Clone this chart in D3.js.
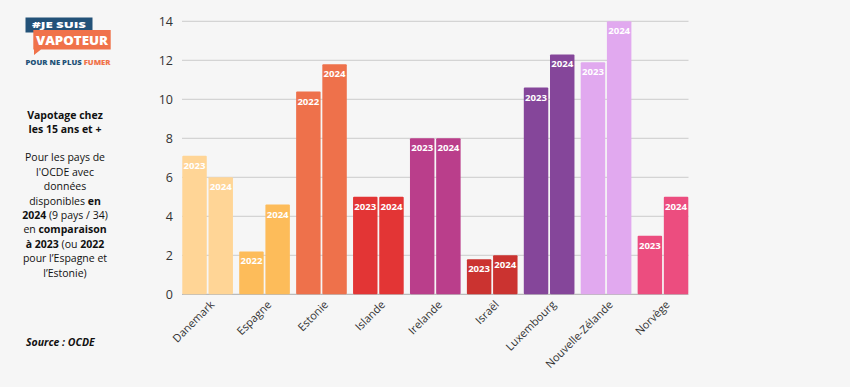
<!DOCTYPE html>
<html><head><meta charset="utf-8">
<script src="https://cdn.jsdelivr.net/npm/d3@7"></script>
<style>
html,body{margin:0;padding:0;background:#F6F6F6;}
svg{display:block;font-family:"Open Sans",sans-serif;}
</style></head>
<body><svg id="c" width="850" height="387"></svg>
<script>
const countries = ["Danemark","Espagne","Estonie","Islande","Irelande","Israël","Luxembourg","Nouvelle-Zélande","Norvège"];
const yearsA = ["2023","2022","2022","2023","2023","2023","2023","2023","2023"];
const valuesA = [7.1,2.2,10.4,5.0,8.0,1.8,10.6,11.9,3.0];
const yearsB = ["2024","2024","2024","2024","2024","2024","2024","2024","2024"];
const valuesB = [6.0,4.6,11.8,5.0,8.0,2.0,12.3,14.0,5.0];
const colors = ["#FFD596","#FDBC5A","#EE714B","#E33535","#BA3E8B","#CB3330","#85469A","#E1A9EF","#EC4D7F"];
const yTicks = [0,2,4,6,8,10,12,14];

const svg = d3.select("#c");
svg.append("rect").attr("width",850).attr("height",387).attr("fill","#F6F6F6");

const y = d3.scaleLinear().domain([0,14]).range([294.3,21.3]);
const x0 = d3.scaleBand().domain(countries).range([182.3,688.3]).paddingInner(0.11).paddingOuter(0);
const x1 = d3.scaleBand().domain([0,1]).range([0,x0.bandwidth()]).paddingInner(0.066);

// grid
const g = svg.append("g");
g.selectAll("line.grid").data(yTicks.filter(d=>d>0)).join("line")
  .attr("x1",182).attr("x2",688.5).attr("y1",d=>y(d)).attr("y2",d=>y(d))
  .attr("stroke","#CCCCCC").attr("stroke-width",1);
g.append("line").attr("x1",182).attr("x2",688.5).attr("y1",y(0)).attr("y2",y(0))
  .attr("stroke","#BBBBBB").attr("stroke-width",1.2);

// y axis labels
const yAxis = d3.axisLeft(y).tickValues(yTicks).tickSize(0).tickPadding(9);
const ya = svg.append("g").attr("transform","translate(182,0)").call(yAxis);
ya.select(".domain").remove();
ya.selectAll("text").attr("font-size",12.5).attr("fill","#333").attr("font-family","Open Sans");

// bars
const rows = countries.map((c,i)=>({c,i,vals:[{v:valuesA[i],yr:yearsA[i],k:0},{v:valuesB[i],yr:yearsB[i],k:1}]}));
const grp = svg.selectAll("g.grp").data(rows).join("g").attr("class","grp")
  .attr("transform",d=>`translate(${x0(d.c)},0)`);
grp.selectAll("rect").data(d=>d.vals.map(v=>({...v,col:colors[d.i]}))).join("rect")
  .attr("x",d=>x1(d.k)).attr("width",x1.bandwidth())
  .attr("y",d=>y(d.v)).attr("height",d=>y(0)-y(d.v))
  .attr("fill",d=>d.col).attr("rx",1);
grp.selectAll("text").data(d=>d.vals).join("text")
  .attr("x",d=>x1(d.k)+x1.bandwidth()/2).attr("y",d=>y(d.v)+13)
  .attr("text-anchor","middle").attr("font-size",9.6).attr("font-weight",700)
  .attr("fill","#fff").text(d=>d.yr);

// x axis labels
const xAxis = d3.axisBottom(x0).tickSize(0).tickPadding(0);
const xa = svg.append("g").attr("transform",`translate(0,${y(0)})`).call(xAxis);
xa.select(".domain").remove();
xa.selectAll("text").attr("font-size",11).attr("fill","#333").attr("font-family","Open Sans")
  .attr("text-anchor","end").attr("dy",0).attr("y",0)
  .attr("transform","translate(7.5,11) rotate(-45)");

// left panel text
const lt = svg.append("g").attr("font-size",10.5).attr("fill","#111").attr("text-anchor","middle");
const lines = [
  [[ "Vapotage chez",1]],
  [[ "les 15 ans et +",1]],
  null,
  [[ "Pour les pays de",0]],
  [[ "l'OCDE avec",0]],
  [[ "données",0]],
  [[ "disponibles ",0],["en",1]],
  [[ "2024",1],[" (9 pays / 34)",0]],
  [[ "en ",0],["comparaison",1]],
  [[ "à 2023",1],[" (ou ",0],["2022",1]],
  [[ "pour l’Espagne et",0]],
  [[ "l’Estonie)",0]]
];
const base = [119,133.4,null,161.3,175.7,190.1,204.5,218.9,233.3,247.7,262.1,276.5];
lines.forEach((ln,i)=>{
  if(!ln) return;
  const t = lt.append("text").attr("x",65).attr("y",base[i]);
  ln.forEach(([s,b])=>t.append("tspan").attr("font-weight",b?700:400).text(s));
});
svg.append("text").attr("x",26).attr("y",346).attr("font-size",10.5).attr("font-weight",700)
  .attr("font-style","italic").attr("fill","#111").text("Source : OCDE");

// logo
const lg = svg.append("g");
lg.append("rect").attr("x",25.5).attr("y",17.5).attr("width",67).attr("height",15).attr("fill","#235278");
lg.append("path").attr("d","M33.3,30 H110.7 V49.5 H41 L34,55 L34,49.5 H33.3 Z").attr("fill","#F0724A");
lg.append("text").attr("x",59).attr("y",28.4).attr("text-anchor","middle").attr("font-size",9.5).attr("font-weight",800)
  .attr("fill","#fff").attr("font-family","Open Sans").attr("textLength",54).attr("lengthAdjust","spacingAndGlyphs").text("#JE SUIS");
lg.append("text").attr("x",72).attr("y",45.4).attr("text-anchor","middle").attr("font-size",13).attr("font-weight",800)
  .attr("fill","#fff").attr("font-family","Open Sans").attr("textLength",72).attr("lengthAdjust","spacingAndGlyphs").text("VAPOTEUR");
const lt2 = lg.append("text").attr("x",25.5).attr("y",65).attr("font-size",7.6).attr("font-weight",800)
  .attr("textLength",85).attr("lengthAdjust","spacingAndGlyphs");
lt2.append("tspan").attr("fill","#235278").text("POUR NE PLUS ");
lt2.append("tspan").attr("fill","#F0724A").text("FUMER");
</script></body></html>
